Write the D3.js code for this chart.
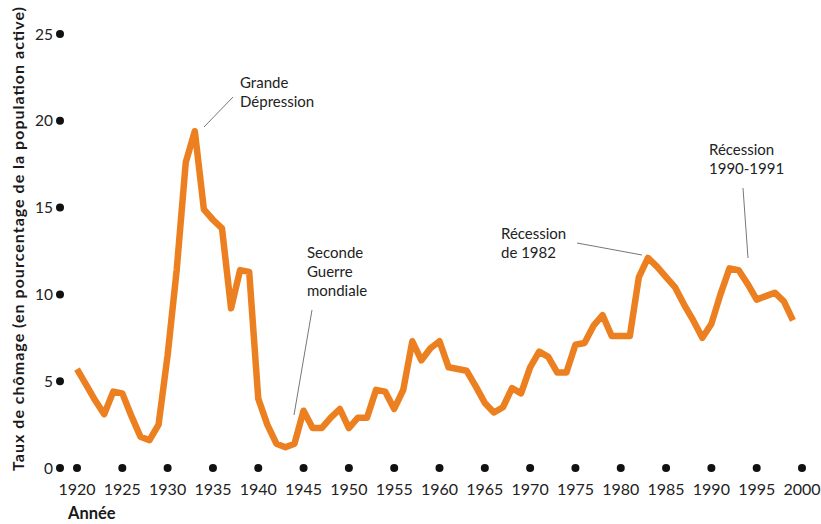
<!DOCTYPE html>
<html>
<head>
<meta charset="utf-8">
<script src="https://cdnjs.cloudflare.com/ajax/libs/d3/7.8.5/d3.min.js"></script>
<style>
  body { margin: 0; background: #fff; }
  svg { display: block; font-family: Lato, "Noto Sans", sans-serif; }
</style>
</head>
<body>
<div id="container"></div>
<script>
// Années et taux de chômage (en %)
var years = [
  1920, 1921, 1922, 1923, 1924, 1925, 1926, 1927, 1928, 1929,
  1930, 1931, 1932, 1933, 1934, 1935, 1936, 1937, 1938, 1939,
  1940, 1941, 1942, 1943, 1944, 1945, 1946, 1947, 1948, 1949,
  1950, 1951, 1952, 1953, 1954, 1955, 1956, 1957, 1958, 1959,
  1960, 1961, 1962, 1963, 1964, 1965, 1966, 1967, 1968, 1969,
  1970, 1971, 1972, 1973, 1974, 1975, 1976, 1977, 1978, 1979,
  1980, 1981, 1982, 1983, 1984, 1985, 1986, 1987, 1988, 1989,
  1990, 1991, 1992, 1993, 1994, 1995, 1996, 1997, 1998, 1999
];
var rates = [
  5.7, 4.8, 3.9, 3.1, 4.4, 4.3, 3.0, 1.8, 1.6, 2.5,
  6.5, 11.4, 17.6, 19.4, 14.9, 14.3, 13.8, 9.2, 11.4, 11.3,
  4.0, 2.5, 1.4, 1.2, 1.4, 3.3, 2.3, 2.3, 2.9, 3.4,
  2.3, 2.9, 2.9, 4.5, 4.4, 3.4, 4.5, 7.3, 6.2, 6.9,
  7.3, 5.8, 5.7, 5.6, 4.7, 3.75, 3.2, 3.5, 4.6, 4.3,
  5.8, 6.7, 6.4, 5.5, 5.5, 7.1, 7.2, 8.2, 8.8, 7.6,
  7.6, 7.6, 11.0, 12.1, 11.6, 11.0, 10.4, 9.4, 8.5, 7.5,
  8.3, 10.0, 11.5, 11.4, 10.6, 9.7, 9.9, 10.1, 9.6, 8.5
];
var xTicks = [1920, 1925, 1930, 1935, 1940, 1945, 1950, 1955, 1960, 1965, 1970, 1975, 1980, 1985, 1990, 1995, 2000];
var yTicks = [0, 5, 10, 15, 20, 25];
var noteTexts = [
  ["Grande", "Dépression"],
  ["Seconde", "Guerre", "mondiale"],
  ["Récession", "de 1982"],
  ["Récession", "1990-1991"]
];

var width = 821, height = 524;
var svg = d3.select("#container").append("svg")
    .attr("width", width)
    .attr("height", height);

var x = d3.scaleLinear().domain([1920, 2000]).range([77, 802]);
var y = d3.scaleLinear().domain([0, 25]).range([468, 34]);
var axisX = 60; // position des points de l'axe vertical

// points de l'axe vertical + étiquettes
var yAxis = svg.append("g");
yAxis.selectAll("circle").data(yTicks).enter().append("circle")
    .attr("cx", axisX).attr("cy", function(d) { return y(d); })
    .attr("r", 4).attr("fill", "#111");
yAxis.selectAll("text").data(yTicks).enter().append("text")
    .attr("x", axisX - 7).attr("y", function(d) { return y(d) + 5.5; })
    .attr("text-anchor", "end")
    .attr("font-size", 15.5)
    .attr("fill", "#222")
    .text(function(d) { return d; });

// points de l'axe horizontal + années
var xAxis = svg.append("g");
xAxis.selectAll("circle").data(xTicks).enter().append("circle")
    .attr("cx", function(d) { return x(d); }).attr("cy", y(0))
    .attr("r", 4).attr("fill", "#111");
xAxis.selectAll("text").data(xTicks).enter().append("text")
    .attr("x", function(d) { return x(d); }).attr("y", y(0) + 27)
    .attr("text-anchor", "middle")
    .attr("font-size", 16)
    .attr("fill", "#222")
    .text(function(d) { return d; });

// titres des axes
svg.append("text")
    .attr("transform", "translate(23.5," + 239 + ") rotate(-90)")
    .attr("text-anchor", "middle")
    .attr("font-size", 16)
    .attr("font-weight", "bold")
    .attr("textLength", 464)
    .attr("lengthAdjust", "spacing")
    .attr("fill", "#1a1a1a")
    .text("Taux de chômage (en pourcentage de la population active)");

svg.append("text")
    .attr("x", 68).attr("y", 519)
    .attr("font-size", 16.5)
    .attr("font-weight", "bold")
    .attr("fill", "#1a1a1a")
    .text("Année");

// courbe du chômage
var line = d3.line()
    .x(function(d, i) { return x(years[i]); })
    .y(function(d) { return y(d); });

svg.append("path")
    .datum(rates)
    .attr("d", line)
    .attr("fill", "none")
    .attr("stroke", "#ec8020")
    .attr("stroke-width", 6.5)
    .attr("stroke-linejoin", "round");

// annotations : texte + trait de rappel
var notePos = [
  {tx: 240, ty: 88, line: [[233, 97], [204, 127]]},
  {tx: 307, ty: 258, line: [[312, 310], [294, 415]]},
  {tx: 501, ty: 239, line: [[577, 243], [642, 255]]},
  {tx: 709, ty: 155, line: [[743, 188], [748, 258]]}
];

var notes = svg.append("g");
noteTexts.forEach(function(lines, i) {
  var p = notePos[i];
  var t = notes.append("text")
      .attr("font-size", 15)
      .attr("fill", "#222");
  lines.forEach(function(s, j) {
    t.append("tspan").attr("x", p.tx).attr("y", p.ty + j * 19).text(s);
  });
  notes.append("line")
      .attr("x1", p.line[0][0]).attr("y1", p.line[0][1])
      .attr("x2", p.line[1][0]).attr("y2", p.line[1][1])
      .attr("stroke", "#777")
      .attr("stroke-width", 1);
});
</script>
</body>
</html>
